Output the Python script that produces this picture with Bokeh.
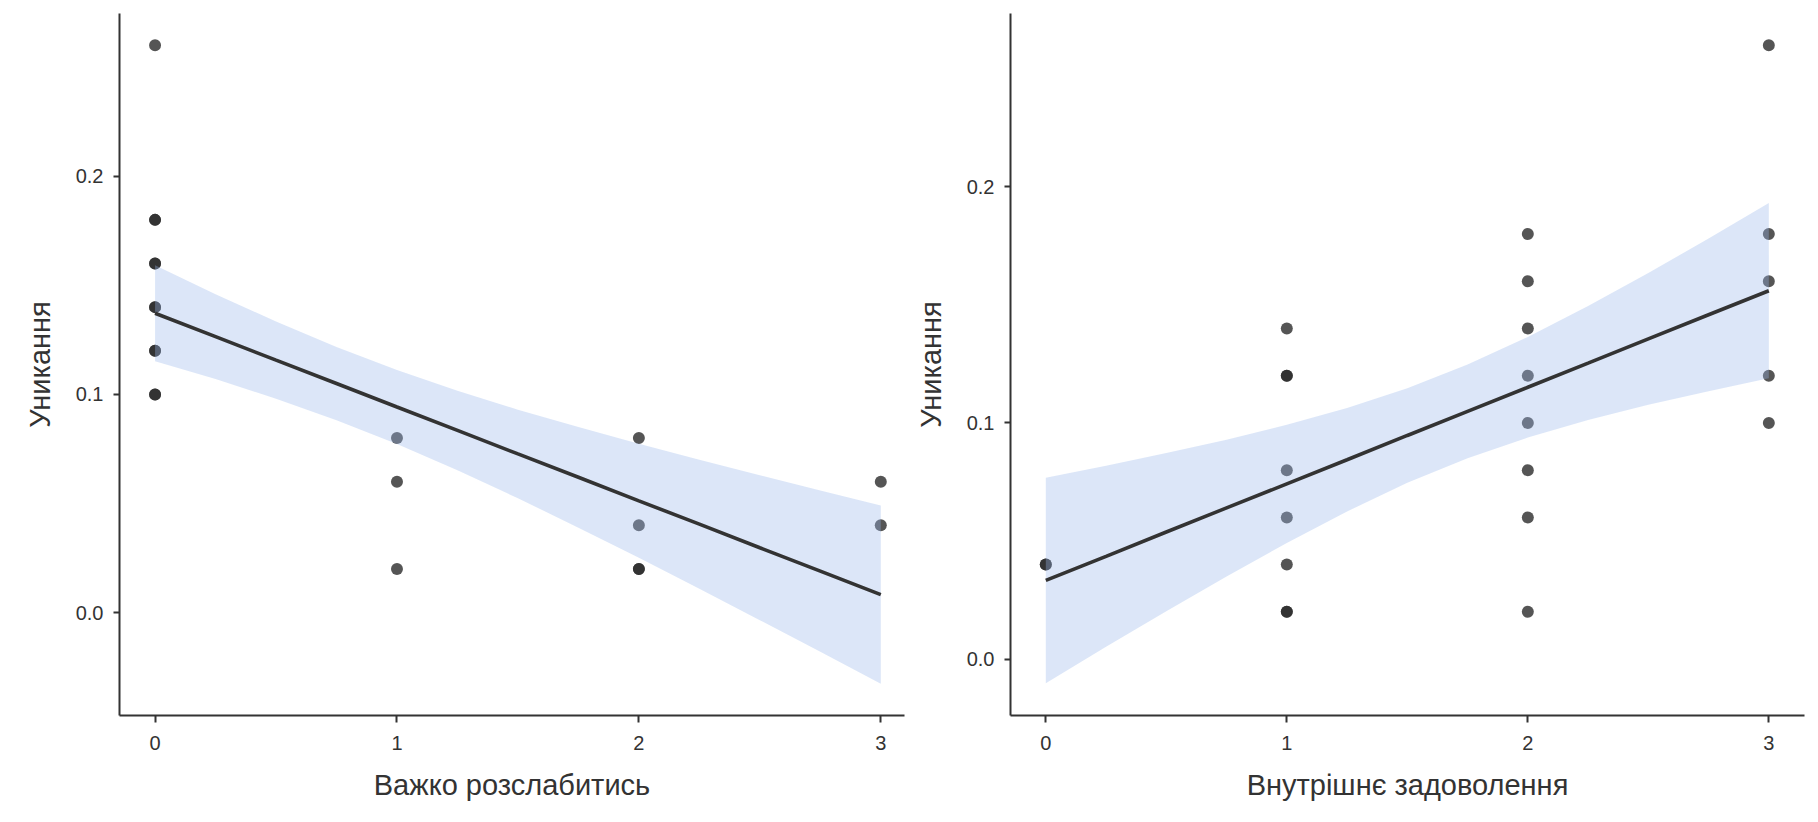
from bokeh.plotting import figure
from bokeh.layouts import row
from bokeh.models import FixedTicker, PrintfTickFormatter, Range1d
from bokeh.embed import file_html
from bokeh.resources import INLINE

# ---- data ----
relax_x = [0, 0, 0, 0, 0, 0, 0, 0, 0, 0, 0, 1, 1, 1, 2, 2, 2, 2, 3, 3]
relax_y = [0.26, 0.18, 0.18, 0.16, 0.16, 0.14, 0.14, 0.12, 0.12, 0.10, 0.10,
           0.08, 0.06, 0.02, 0.08, 0.04, 0.02, 0.02, 0.06, 0.04]

satis_x = [0, 0, 1, 1, 1, 1, 1, 1, 1, 1, 2, 2, 2, 2, 2, 2, 2, 2, 3, 3, 3, 3, 3]
satis_y = [0.04, 0.04, 0.14, 0.12, 0.12, 0.08, 0.06, 0.04, 0.02, 0.02,
           0.18, 0.16, 0.14, 0.12, 0.10, 0.08, 0.06, 0.02,
           0.26, 0.18, 0.16, 0.12, 0.10]

# regression line and 95% band
band_x = [0, 0.25, 0.5, 0.75, 1.0, 1.25, 1.5, 1.75, 2.0, 2.25, 2.5, 2.75, 3.0]
relax_fit = [0.1372, 0.1265, 0.1157, 0.1050, 0.0942, 0.0835, 0.0727,
             0.0620, 0.0512, 0.0405, 0.0297, 0.0190, 0.0082]
relax_lo = [0.1152, 0.1070, 0.0980, 0.0882, 0.0772, 0.0652, 0.0524,
            0.0389, 0.0251, 0.0109, -0.0035, -0.0180, -0.0327]
relax_hi = [0.1592, 0.1459, 0.1334, 0.1217, 0.1112, 0.1017, 0.0930,
            0.0850, 0.0774, 0.0700, 0.0629, 0.0559, 0.0491]

satis_fit = [0.0333, 0.0435, 0.0538, 0.0640, 0.0742, 0.0844, 0.0947,
             0.1049, 0.1151, 0.1253, 0.1356, 0.1458, 0.1560]
satis_lo = [-0.0102, 0.0052, 0.0203, 0.0350, 0.0492, 0.0625, 0.0747,
            0.0850, 0.0938, 0.1012, 0.1077, 0.1134, 0.1189]
satis_hi = [0.0768, 0.0819, 0.0873, 0.0929, 0.0992, 0.1063, 0.1147,
            0.1247, 0.1364, 0.1495, 0.1635, 0.1781, 0.1931]

x_ticks = [0, 1, 2, 3]
y_ticks = [0.0, 0.1, 0.2]
y_title = "Уникання"
x_title_left = "Важко розслабитись"
x_title_right = "Внутрішнє задоволення"

FONT = "Liberation Sans"
TEXT = "#333333"
AX = "#333333"


def make_fig(width, height, xr, yr, mb_left, mb_right, mb_top, mb_bottom,
             xs, ys, fit, lo, hi, xlabel):
    p = figure(width=width, height=height, output_backend="svg",
               toolbar_location=None,
               x_range=Range1d(*xr), y_range=Range1d(*yr),
               min_border_left=mb_left, min_border_right=mb_right,
               min_border_top=mb_top, min_border_bottom=mb_bottom)
    p.grid.visible = False
    p.outline_line_color = None
    p.background_fill_color = "white"
    p.border_fill_color = "white"

    p.scatter(xs, ys, size=12, fill_color="#2a2a2a", fill_alpha=0.8,
              line_color=None)
    p.varea(x=band_x, y1=lo, y2=hi, fill_color="#9bb8eb", fill_alpha=0.35)
    p.line(band_x, fit, line_color="#333333", line_width=3.6)

    for ax in (p.xaxis[0], p.yaxis[0]):
        ax.axis_line_color = AX
        ax.axis_line_width = 2
        ax.major_tick_line_color = AX
        ax.major_tick_line_width = 2
        ax.major_tick_in = 0
        ax.major_tick_out = 7
        ax.minor_tick_line_color = None
        ax.major_label_text_font = FONT
        ax.major_label_text_font_size = "20px"
        ax.major_label_text_color = TEXT
        ax.axis_label_text_font = FONT
        ax.axis_label_text_font_size = "29px"
        ax.axis_label_text_font_style = "normal"
        ax.axis_label_text_color = TEXT

    p.xaxis.ticker = FixedTicker(ticks=x_ticks)
    p.xaxis.formatter = PrintfTickFormatter(format="%d")
    p.xaxis.major_label_standoff = 13
    p.xaxis.axis_label = xlabel
    p.xaxis.axis_label_standoff = 16

    p.yaxis.ticker = FixedTicker(ticks=y_ticks)
    p.yaxis.formatter = PrintfTickFormatter(format="%.1f")
    p.yaxis.major_tick_out = 6
    p.yaxis.major_label_standoff = 10
    p.yaxis.axis_label = y_title
    p.yaxis.axis_label_standoff = 17
    return p


left = make_fig(910, 814, (-0.147, 3.098), (-0.0472, 0.2746),
                119, 6, 6, 99,
                relax_x, relax_y, relax_fit, relax_lo, relax_hi, x_title_left)
right = make_fig(900, 814, (-0.1465, 3.148), (-0.0239, 0.2734),
                 100, 6, 13, 95,
                 satis_x, satis_y, satis_fit, satis_lo, satis_hi, x_title_right)

layout = row(left, right, spacing=0)
open("out.html", "w").write(file_html(layout, INLINE))
